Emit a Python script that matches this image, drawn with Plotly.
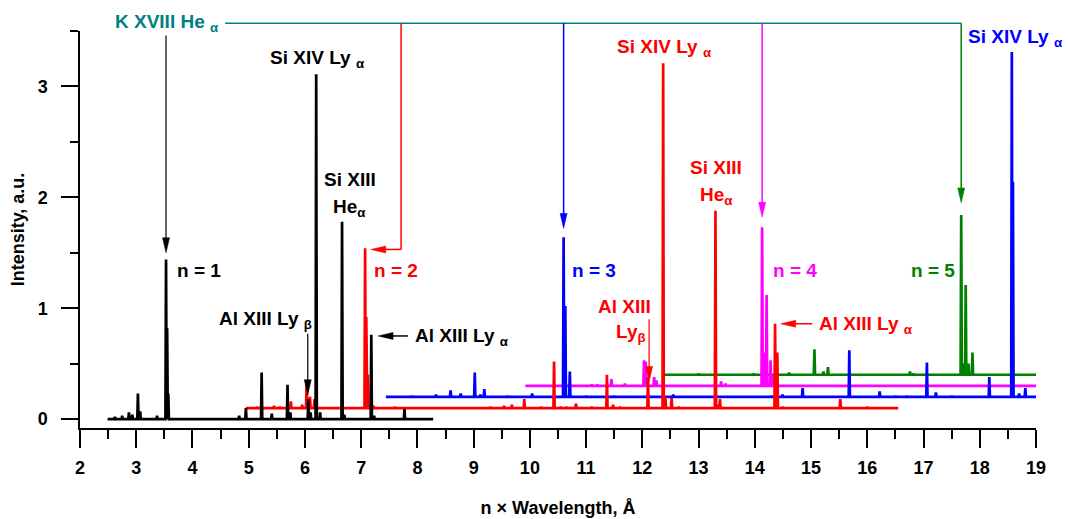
import plotly.graph_objects as go

# ---------------- data ----------------
X_RANGE = [2, 19]
Y_RANGE = [-0.08, 3.5]
X_TICKS = list(range(2, 20))
Y_TICKS = [0, 1, 2, 3]

# n = 1 (black)
n1_span = [2.49, 8.28]
n1_base = 0.0
n1_px = [2.62, 2.75, 2.87, 2.93, 3.03, 3.07, 3.37, 3.53, 3.55, 3.57, 4.83, 4.95,
         5.23, 5.41, 5.69, 5.74, 6.06, 6.10, 6.20, 6.27, 6.66, 6.70, 7.18, 7.23, 7.77]
n1_py = [0.02, 0.03, 0.06, 0.04, 0.23, 0.07, 0.03, 1.44, 0.82, 0.23, 0.03, 0.10,
         0.42, 0.05, 0.31, 0.06, 0.18, 0.06, 3.11, 0.06, 1.78, 0.04, 0.76, 0.03, 0.09]

# n = 2 (red)
n2_span = [4.95, 16.55]
n2_base = 0.10
n2_px = [5.15, 5.45, 5.55, 5.75, 5.95, 6.03, 6.09, 6.17, 7.07, 7.09, 7.12, 7.22, 7.60,
         9.30, 9.54, 9.68, 9.90, 10.20, 10.43, 10.55, 10.65, 10.82, 11.10, 11.37, 11.48,
         11.60, 12.10, 12.37, 12.41, 12.52, 12.65, 13.30, 13.34, 13.38, 14.36, 14.40,
         14.50, 15.52, 16.00]
n2_py = [0.11, 0.12, 0.11, 0.16, 0.13, 0.34, 0.20, 0.18, 1.54, 0.92, 0.40, 0.12, 0.11,
         0.11, 0.12, 0.13, 0.18, 0.11, 0.52, 0.11, 0.11, 0.14, 0.11, 0.40, 0.13,
         0.11, 0.38, 3.21, 0.20, 0.19, 0.11, 1.88, 0.13, 0.18, 0.86, 0.60,
         0.11, 0.18, 0.11]

# n = 3 (blue)
n3_span = [7.44, 19.0]
n3_base = 0.20
n3_px = [7.90, 8.33, 8.59, 8.77, 9.02, 9.12, 9.19, 9.60, 10.04, 10.60, 10.63, 10.71,
         11.00, 11.50, 12.10, 12.55, 13.30, 14.30, 14.49, 14.85, 15.68, 16.22, 16.50,
         16.70, 17.06, 17.22, 17.50, 18.17, 18.57, 18.59, 18.70, 18.81]
n3_py = [0.21, 0.22, 0.26, 0.23, 0.42, 0.22, 0.27, 0.21, 0.23, 1.64, 1.02, 0.43,
         0.21, 0.21, 0.22, 0.22, 0.22, 0.21, 0.22, 0.28, 0.62, 0.25, 0.21,
         0.21, 0.51, 0.24, 0.21, 0.38, 3.31, 2.14, 0.23, 0.28]

# n = 4 (magenta)
n4_span = [9.92, 19.0]
n4_base = 0.30
n4_px = [10.60, 11.10, 11.20, 11.45, 11.69, 12.03, 12.06, 12.21, 12.25, 13.40, 13.48,
         14.13, 14.17, 14.21, 14.28, 14.32]
n4_py = [0.31, 0.31, 0.31, 0.36, 0.32, 0.53, 0.52, 0.38, 0.35, 0.34, 0.32,
         1.73, 0.60, 1.12, 0.53, 0.40]

# n = 5 (green)
n5_span = [12.40, 19.0]
n5_base = 0.40
n5_px = [13.00, 13.98, 14.20, 14.61, 15.06, 15.22, 15.30, 16.76, 16.82, 17.67, 17.70,
         17.75, 17.80, 17.87]
n5_py = [0.41, 0.41, 0.41, 0.42, 0.63, 0.43, 0.47, 0.43, 0.41, 1.84, 0.50,
         1.21, 0.50, 0.60]

# ---------------- layout geometry ----------------
W, H = 1068, 519
M = dict(l=80, r=32, t=31, b=91)
PW = W - M['l'] - M['r']
PH = H - M['t'] - M['b']

BLACK, RED, BLUE, MAG, GREEN, TEAL = '#000000', '#ff0000', '#0000ff', '#ff00ff', '#008000', '#008080'
FONT = 'Liberation Sans, Arial, sans-serif'


def spectrum(span, base, px, py, w=0.011):
    xs, ys = [span[0]], [base]
    for x0, h in sorted(zip(px, py)):
        xs += [x0 - w, x0, x0 + w]
        ys += [base, h, base]
    xs.append(span[1])
    ys.append(base)
    return xs, ys


fig = go.Figure()
for span, base, px, py, col in [
    (n5_span, n5_base, n5_px, n5_py, GREEN),
    (n4_span, n4_base, n4_px, n4_py, MAG),
    (n3_span, n3_base, n3_px, n3_py, BLUE),
    (n2_span, n2_base, n2_px, n2_py, RED),
    (n1_span, n1_base, n1_px, n1_py, BLACK),
]:
    xs, ys = spectrum(span, base, px, py)
    fig.add_trace(go.Scatter(x=xs, y=ys, mode='lines', line=dict(color=col, width=2.7),
                             showlegend=False, hoverinfo='skip'))


def xp(x):
    return (x - X_RANGE[0]) / (X_RANGE[1] - X_RANGE[0])


def yp(y):
    return (y - Y_RANGE[0]) / (Y_RANGE[1] - Y_RANGE[0])


shapes = []


def seg(x0, y0, x1, y1, color, width=1.5):
    shapes.append(dict(type='line', xref='paper', yref='paper', x0=xp(x0), y0=yp(y0),
                       x1=xp(x1), y1=yp(y1), line=dict(color=color, width=width)))


def head(x, y, direction, color, L=15, hw=3.5):
    tx, ty = xp(x), yp(y)
    if direction == 'down':
        p = f"M {tx} {ty} L {tx - hw / PW} {ty + L / PH} L {tx + hw / PW} {ty + L / PH} Z"
    else:  # left
        p = f"M {tx} {ty} L {tx + L / PW} {ty + hw / PH} L {tx + L / PW} {ty - hw / PH} Z"
    shapes.append(dict(type='path', xref='paper', yref='paper', path=p, fillcolor=color,
                       line=dict(color=color, width=0.5)))


def arrow_down(x, ytop, ytip, color, width=1.5):
    seg(x, ytop, x, ytip + 10 / PH * (Y_RANGE[1] - Y_RANGE[0]), color, width)
    head(x, ytip, 'down', color)


def arrow_left(xstart, xtip, y, color, width=1.5):
    seg(xstart, y, xtip + 10 / PW * (X_RANGE[1] - X_RANGE[0]), y, color, width)
    head(xtip, y, 'left', color)


# K XVIII He-alpha connector
K_Y = 3.57
seg(4.58, K_Y, 17.67, K_Y, TEAL, 1.5)
arrow_down(3.53, 3.46, 1.50, BLACK, 1.2)
seg(7.71, K_Y, 7.71, 1.53, RED, 1.5)
arrow_left(7.71, 7.17, 1.53, RED, 1.5)
arrow_down(10.60, K_Y, 1.72, BLUE, 1.5)
arrow_down(14.13, K_Y, 1.82, MAG, 1.5)
arrow_down(17.67, K_Y, 1.95, GREEN, 1.5)
# Al XIII pointers
arrow_down(6.05, 0.77, 0.22, BLACK, 1.2)
arrow_left(7.83, 7.30, 0.75, BLACK, 1.5)
arrow_down(12.12, 0.90, 0.34, RED, 1.2)
arrow_left(15.02, 14.46, 0.86, RED, 1.5)

ann = []


def label(text, x, y, color, anchor='left', size=19):
    ann.append(dict(text=text, x=xp(x), y=yp(y), xref='paper', yref='paper', showarrow=False,
                    xanchor=anchor, yanchor='middle',
                    font=dict(family=FONT, size=size, color=color, weight='bold')))


label('K XVIII He <sub>α</sub>', 2.59, 3.575, TEAL)
label('Si XIV Ly <sub>α</sub>', 5.34, 3.25, BLACK)
label('Si XIII', 6.80, 2.16, BLACK, 'center')
label('He<sub>α</sub>', 6.80, 1.90, BLACK, 'center')
label('n = 1', 3.69, 1.34, BLACK)
label('Al XIII Ly <sub>β</sub>', 4.43, 0.895, BLACK)
label('Al XIII Ly <sub>α</sub>', 7.92, 0.74, BLACK)
label('n = 2', 7.20, 1.34, RED)
label('Si XIV Ly <sub>α</sub>', 11.51, 3.35, RED)
label('Si XIII', 13.31, 2.27, RED, 'center')
label('He<sub>α</sub>', 13.31, 2.01, RED, 'center')
label('n = 3', 10.72, 1.34, BLUE)
label('Al XIII', 11.68, 1.02, RED, 'center')
label('Ly<sub>β</sub>', 11.80, 0.78, RED, 'center')
label('n = 4', 14.28, 1.34, MAG)
label('Al XIII Ly <sub>α</sub>', 15.11, 0.845, RED)
label('n = 5', 16.75, 1.34, GREEN)
label('Si XIV Ly <sub>α</sub>', 17.76, 3.44, BLUE)

axis_common = dict(showline=True, linecolor='black', linewidth=1.5, ticks='outside',
                   tickwidth=1.5, tickcolor='black', showgrid=False, zeroline=False,
                   tickfont=dict(family=FONT, size=18, color='black', weight='bold'),
                   mirror=False, automargin=False)

fig.update_layout(
    width=W, height=H, margin=M, paper_bgcolor='white', plot_bgcolor='white',
    shapes=shapes, annotations=ann, showlegend=False,
    xaxis=dict(range=X_RANGE, tickvals=X_TICKS, ticklen=18,
               minor=dict(dtick=0.5, ticklen=9, tickwidth=1.5, tickcolor='black', ticks='outside'),
               ticklabelstandoff=5,
               title=dict(text='n × Wavelength, Å', standoff=24,
                          font=dict(family=FONT, size=18, color='black', weight='bold')),
               **axis_common),
    yaxis=dict(range=Y_RANGE, tickvals=Y_TICKS, ticklen=17,
               minor=dict(dtick=0.5, tick0=0, ticklen=8, tickwidth=1.5, tickcolor='black', ticks='outside'),
               ticklabelstandoff=10,
               title=dict(text='Intensity, a.u.', standoff=8,
                          font=dict(family=FONT, size=18, color='black', weight='bold')),
               **axis_common),
)

fig.write_html('out.html', config={'displayModeBar': False},
               post_script="document.body.style.margin='0';document.body.style.padding='0';")
